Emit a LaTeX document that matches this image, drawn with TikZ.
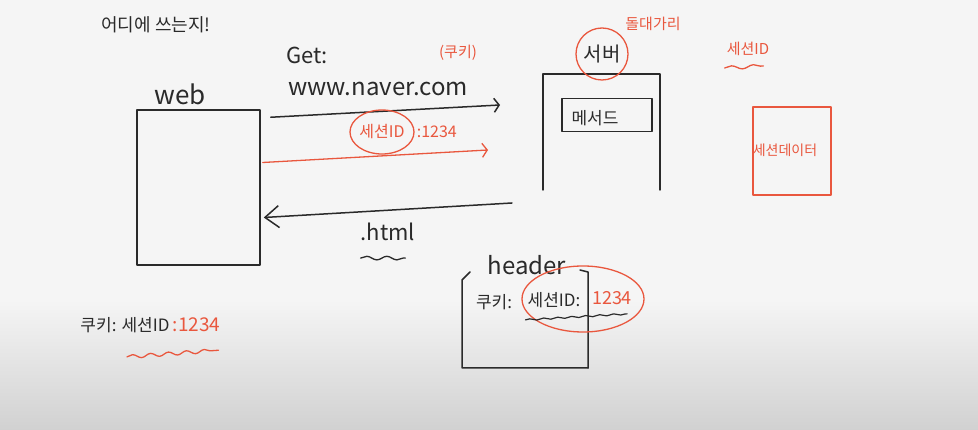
\documentclass[tikz,border=0pt]{standalone}
\usepackage{fontspec}
\setmainfont{Noto Sans CJK KR}
\usetikzlibrary{positioning}
\usetikzlibrary{calc}
\usetikzlibrary{shapes.geometric}
\usetikzlibrary{arrows.meta}
\usetikzlibrary{decorations.pathmorphing}
\definecolor{pen}{HTML}{2A2A2A}
\definecolor{redpen}{HTML}{E9573E}
\definecolor{paper}{HTML}{F5F5F5}
\tikzset{ink/.style={draw=pen, line width=1.5pt, line cap=round, line join=round}}
\tikzset{redink/.style={draw=redpen, line width=1.3pt, line cap=round, line join=round}}
\tikzset{txt/.style={text=pen, inner sep=0pt}}
\tikzset{redtxt/.style={text=redpen, inner sep=0pt}}
\tikzset{wavy/.style={decorate, decoration={snake, amplitude=1.8pt, segment length=#1}}, wavy/.default=16pt}
\tikzset{barb/.style={-{Straight Barb[length=5pt, width=14pt]}}}
\newcommand{\fsz}[1]{\fontsize{#1}{#1}\selectfont}

\begin{document}
\begin{tikzpicture}[x=1pt, y=-1pt]
        % paper
        \fill[paper] (0,0) rectangle (978,430);
        \shade[top color=paper, bottom color=black!18] (0,300) rectangle (978,430);
        \useasboundingbox (0,0) rectangle (978,430);

        \node[txt] (title) at (156,25) {\fsz{18}어디에 쓰는지!};

        % client
        \node[txt] (weblbl) at (180,94) {\fsz{26}web};
        \node[ink, minimum width=123pt, minimum height=155pt] (web) at (198.5,187.5) {};

        % server
        \node[minimum width=117pt, minimum height=116pt, outer sep=0pt] (server) at (601.5,132) {};
        \draw[ink] (server.south west) -- (server.north west) -- (server.north east) -- (server.south east);
        \node[ink, minimum width=90pt, minimum height=33pt] (method) at (607,115) {};
        \node[txt] (methodlbl) at (595,118) {\fsz{17}메서드};
        \node[txt, redink, circle, minimum size=52pt] (srv) at (602,54) {\fsz{20}서버};
        \node[redtxt] (nick) at (653,24) {\fsz{15}돌대가리};

        % session store
        \node[redtxt] (sidtop) at (748,49) {\fsz{15}세션ID};
        \draw[redink, wavy=22pt] ($(sidtop.south west)+(-2,12)$) -- ($(sidtop.south east)+(-6,10)$);
        \node[redink, minimum width=78pt, minimum height=88pt] (store) at (792,151) {};
        \node[redtxt] (storelbl) at (785,150) {\fsz{14}세션데이터};

        % request
        \node[txt] (get) at (307,55) {\fsz{22}Get:};
        \node[redtxt] (cookie) at (458,53) {\fsz{15}(쿠키)};
        \node[txt] (url) at (378,89) {\fsz{24}www.naver.com};
        \coordinate (reqS) at ($(web.north east)+(10,8)$);
        \coordinate (reqE) at ($(server.north west)+(-43,31)$);
        \draw[ink, barb] (reqS) -- (reqE);

        \node[redtxt, redink, ellipse, minimum width=64pt, minimum height=44pt] (sid) at (382,132) {\fsz{16}세션ID};
        \node[redtxt, right=2pt of sid] (sidnum) {\fsz{16}:1234};
        \coordinate (sidS) at ($(web.east)+(2,-25)$);
        \coordinate (sidE) at ($(server.west)+(-55,18)$);
        \draw[redink, barb] (sidS) -- (sidE);

        % response
        \coordinate (htmS) at ($(server.south west)+(-31,13)$);
        \coordinate (htmE) at ($(web.east)+(3,30)$);
        \draw[ink, -{Straight Barb[length=14pt, width=22pt]}] (htmS) -- (htmE);
        \node[txt] (html) at (388,232) {\fsz{22}.html};
        \draw[ink, wavy=20pt, line width=1.3pt] ($(html.south west)+(0,17)$) -- ($(html.south east)+(-10,17)$);

        % header
        \node[txt] (hdr) at (527,265) {\fsz{24}header};
        \node[minimum width=126pt, minimum height=92pt, outer sep=0pt] (hbox) at (525,322) {};
        \draw[ink] ($(hbox.north west)+(8,-4)$) -- ($(hbox.north west)+(0,4)$) -- (hbox.south west) -- (hbox.south east);
        \draw[ink] (hbox.south east) -- ($(hbox.north east)+(0,-4)$) -- ($(hbox.north east)+(-8,-6)$);
        \node[txt] (hck) at (494,302) {\fsz{17}쿠키:};
        \node[txt] (hsid) at (554,300) {\fsz{17}세션ID:};
        \node[redtxt] (hnum) at (612,298) {\fsz{18}1234};
        \node[redink, ellipse, minimum width=122pt, minimum height=66pt] (hring) at ($(hsid.center)!0.5!(hnum.center)$) {};
        \draw[ink, line width=1.2pt, decorate, decoration={snake, amplitude=0.8pt, segment length=14pt}]
         ($(hsid.south west)+(-2,12)$) -- ($(hnum.south east)+(-5,9)$);

        % cookie note
        \node[txt] (bck) at (125,325) {\fsz{17}쿠키: 세션ID};
        \node[redtxt, right=3pt of bck] (bnum) {\fsz{19}:1234};
        \draw[redink, wavy=18pt] ($(bck.south)+(2,24)$) -- ($(bnum.south east)+(-2,18)$);
\end{tikzpicture}
\end{document}
